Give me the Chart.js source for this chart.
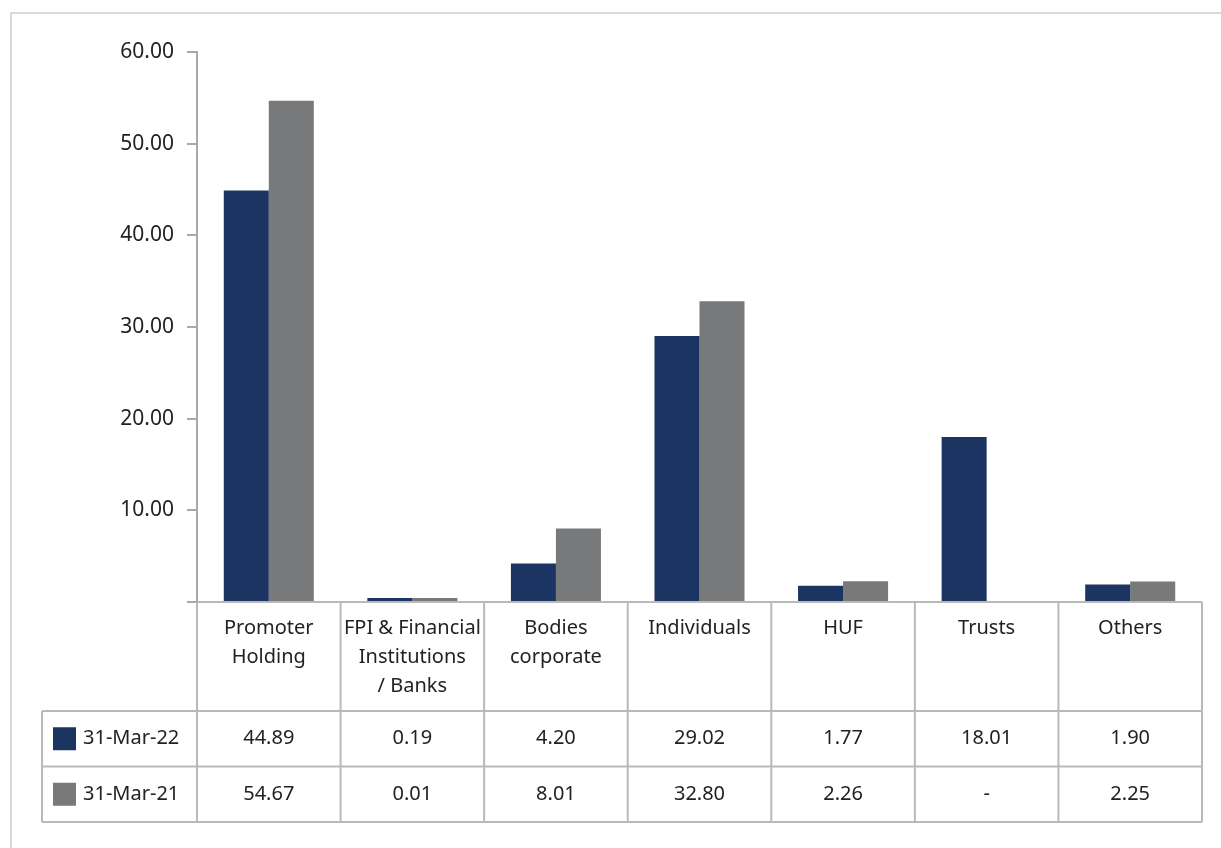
<!DOCTYPE html>
<html>
<head>
<meta charset="utf-8">
<script src="https://cdn.jsdelivr.net/npm/chart.js@4.4.1/dist/chart.umd.min.js"></script>
<style>
  html, body { margin: 0; padding: 0; background: #fff; overflow: hidden; }
  #frame { position: absolute; left: 10px; top: 12px; width: 1240px; height: 900px; border: 2px solid #dadada; }
  #wrap { position: absolute; left: 0; top: 0; width: 1221px; height: 848px; }
</style>
</head>
<body>
<div id="frame"></div>
<div id="wrap"><canvas id="myChart" width="1221" height="848"></canvas></div>
<script>
// data
var categories = [['Promoter', 'Holding'], ['FPI & Financial', 'Institutions', '/ Banks'], ['Bodies', 'corporate'], ['Individuals'], ['HUF'], ['Trusts'], ['Others']];
var seriesNames = ['31-Mar-22', '31-Mar-21'];
var mar22 = [44.89, 0.19, 4.20, 29.02, 1.77, 18.01, 1.90];
var mar21 = [54.67, 0.01, 8.01, 32.80, 2.26, null, 2.25];
var tableRows = [
    ['44.89', '0.19', '4.20', '29.02', '1.77', '18.01', '1.90'],
    ['54.67', '0.01', '8.01', '32.80', '2.26', '-', '2.25']
];
var yMax = 60;
var yStep = 10;

var navy = '#1c3461';
var grey = '#78797b';
var lineCol = '#b9b9b9';
var textCol = '#222222';
var fontFam = '"Noto Sans", sans-serif';

// draws the data table under the plot, columns follow the x scale
var tablePlugin = {
    id: 'dataTable',
    afterDraw: function(chart) {
        var ctx = chart.ctx;
        var area = chart.chartArea;
        var n = categories.length;
        var colW = (area.right - area.left) / n;
        var top = area.bottom;
        var headH = 109;
        var rowH = 55.5;
        var leftX = 42;
        var rowTops = [top + headH, top + headH + rowH, top + headH + 2 * rowH];
        var colors = [navy, grey];

        ctx.save();
        ctx.strokeStyle = lineCol;
        ctx.lineWidth = 2;
        ctx.beginPath();
        // x axis line
        ctx.moveTo(area.left, top);
        ctx.lineTo(area.right, top);
        // column lines
        for (var i = 0; i <= n; i++) {
            var x = area.left + i * colW;
            ctx.moveTo(x, top);
            ctx.lineTo(x, rowTops[2]);
        }
        // row lines
        for (var r = 0; r < rowTops.length; r++) {
            ctx.moveTo(leftX, rowTops[r]);
            ctx.lineTo(area.right, rowTops[r]);
        }
        ctx.moveTo(leftX, rowTops[0]);
        ctx.lineTo(leftX, rowTops[2]);
        ctx.stroke();

        ctx.font = '20px ' + fontFam;
        ctx.fillStyle = textCol;
        ctx.textBaseline = 'middle';
        for (var r = 0; r < tableRows.length; r++) {
            var cy = rowTops[r] + rowH / 2;
            // legend key
            ctx.fillStyle = colors[r];
            ctx.fillRect(53, cy - 11.5, 23, 23);
            ctx.fillStyle = textCol;
            ctx.textAlign = 'left';
            ctx.fillText(seriesNames[r], 83, cy);
            ctx.textAlign = 'center';
            for (var c = 0; c < n; c++) {
                ctx.fillText(tableRows[r][c], area.left + (c + 0.5) * colW, cy);
            }
        }
        ctx.restore();
    }
};

var chartData = {
    labels: categories,
    datasets: [
        {
            label: seriesNames[0],
            backgroundColor: navy,
            data: mar22
        },
        {
            label: seriesNames[1],
            backgroundColor: grey,
            data: mar21
        }
    ]
};

var barGraph = new Chart(document.getElementById('myChart'), {
    type: 'bar',
    data: chartData,
    plugins: [tablePlugin],
    options: {
        responsive: false,
        animation: false,
        devicePixelRatio: 1,
        layout: { padding: { left: 0, right: 19, top: 52, bottom: 0 } },
        datasets: {
            bar: { categoryPercentage: 0.627, barPercentage: 1.0, minBarLength: 4 }
        },
        plugins: {
            legend: { display: false },
            tooltip: { enabled: false }
        },
        scales: {
            x: {
                grid: { display: false, drawTicks: false },
                border: { display: false },
                ticks: {
                    maxRotation: 0,
                    autoSkip: false,
                    padding: 12,
                    color: textCol,
                    font: { family: fontFam, size: 20, lineHeight: 1.45 }
                },
                afterFit: function(scale) { scale.height = 246; }
            },
            y: {
                min: 0,
                max: yMax,
                grid: { drawOnChartArea: false, tickLength: 10, color: '#a9a9a9', lineWidth: 2 },
                border: { color: '#a9a9a9', width: 2 },
                ticks: {
                    stepSize: yStep,
                    padding: 13,
                    color: textCol,
                    font: { family: fontFam, size: 21 },
                    callback: function(v) { return v === 0 ? '' : v.toFixed(2); }
                },
                afterFit: function(scale) { scale.width = 197; }
            }
        }
    }
});
</script>
</body>
</html>
